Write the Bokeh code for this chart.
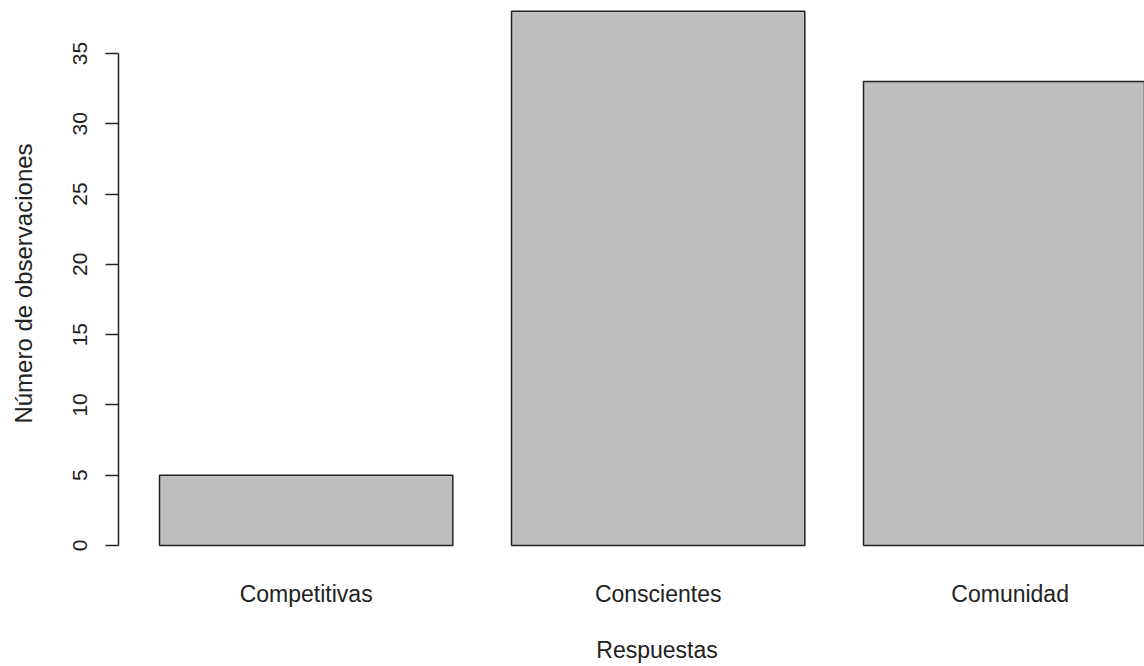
from bokeh.plotting import figure
from bokeh.models import FixedTicker, Range1d, ColumnDataSource
from bokeh.embed import file_html
from bokeh.resources import INLINE

categories = ["Competitivas", "Conscientes", "Comunidad"]
counts = [5, 38, 33]
y_ticks = [0, 5, 10, 15, 20, 25, 30, 35]
x_title = "Respuestas"
y_title = "Número de observaciones"

# R barplot layout: width 1, space 0.2
centers = [0.7 + 1.2 * i for i in range(len(categories))]

src = ColumnDataSource(dict(x=centers, top=counts, cat=categories))

FONT = "Liberation Sans"
INK = "#222222"

p = figure(width=1144, height=666, output_backend="svg", toolbar_location=None,
           x_range=Range1d(0.0602, 3.558), y_range=Range1d(-1.494, 38.77),
           min_border_left=118, min_border_right=0, min_border_top=0,
           min_border_bottom=100)
p.outline_line_color = None
p.grid.visible = False
p.background_fill_color = "white"
p.border_fill_color = "white"

p.vbar(x="x", top="top", bottom=0, width=1.0, source=src,
       fill_color="#BEBEBE", line_color=INK, line_width=1.5)

# y axis
ya = p.yaxis[0]
ya.ticker = FixedTicker(ticks=y_ticks)
ya.bounds = (0, 35)
ya.minor_tick_line_color = None
ya.major_tick_out = 13
ya.major_tick_in = 0
ya.axis_line_color = INK
ya.axis_line_width = 1.5
ya.major_tick_line_color = INK
ya.major_tick_line_width = 1.5
ya.major_label_orientation = "vertical"
ya.major_label_text_font = FONT
ya.major_label_text_font_size = "21px"
ya.major_label_text_color = INK
ya.major_label_standoff = 18
ya.axis_label = y_title
ya.axis_label_text_font = FONT
ya.axis_label_text_font_size = "24px"
ya.axis_label_text_font_style = "normal"
ya.axis_label_text_color = INK
ya.axis_label_standoff = 34

# x axis
xa = p.xaxis[0]
xa.ticker = FixedTicker(ticks=centers)
xa.major_label_overrides = {c: lab for c, lab in zip(centers, categories)}
xa.axis_line_color = None
xa.major_tick_line_color = None
xa.minor_tick_line_color = None
xa.major_tick_out = 0
xa.major_tick_in = 0
xa.major_label_text_font = FONT
xa.major_label_text_font_size = "23px"
xa.major_label_text_color = INK
xa.major_label_standoff = 14
# R centres the title on the full plot region, which extends past the crop:
# pad with non-breaking spaces to shift the centred label to the right
xa.axis_label = "\u00a0" * 8 + x_title
xa.axis_label_text_font = FONT
xa.axis_label_text_font_size = "23px"
xa.axis_label_text_font_style = "normal"
xa.axis_label_text_color = INK
xa.axis_label_standoff = 27

open("out.html", "w").write(file_html(p, INLINE))
